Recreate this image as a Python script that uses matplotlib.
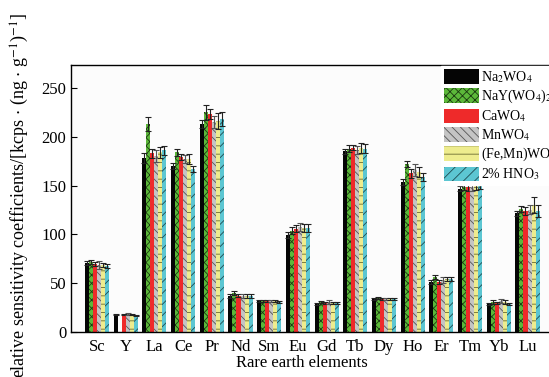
import numpy as np
import matplotlib
matplotlib.use("Agg")
import matplotlib.pyplot as plt
from matplotlib.patches import Patch

plt.rcParams['font.family'] = ['Liberation Serif', 'DejaVu Serif']
plt.rcParams['mathtext.fontset'] = 'stix'
plt.rcParams['hatch.linewidth'] = 0.6

elements = ["Sc", "Y", "La", "Ce", "Pr", "Nd", "Sm", "Eu", "Gd", "Tb", "Dy", "Ho", "Er", "Tm", "Yb", "Lu"]
series_names = [r"Na$_2$WO$_4$", r"NaY(WO$_4$)$_2$", r"CaWO$_4$", r"MnWO$_4$", r"(Fe,Mn)WO$_4$", r"2% HNO$_3$"]

na2wo4 = [71, 18.4, 178, 170, 213, 37, 31.8, 99, 28.7, 185, 33.8, 154, 51.5, 147, 28.7, 121.5]
nay    = [71.4, np.nan, 213, 184, 225, 40, 32, 104, 30.5, 188, 34.8, 172, 56, 149, 30.4, 126]
cawo4  = [70, 18, 183, 179, 223, 37, 31.5, 106, 29.5, 189, 34, 162.5, 51.5, 148.5, 30, 124]
mnwo4  = [69, 18.4, 180, 177, 215.5, 36.5, 32, 107.5, 31, 186.5, 34, 166, 53, 149, 31.5, 125.5]
femnwo4 = [68.5, 18, 184, 177.5, 216.5, 36.5, 31.8, 106.5, 30, 188.5, 33.5, 164, 54, 150.5, 30.7, 130]
hno3   = [68, 17, 186, 167, 218, 36.5, 30.5, 106.5, 29.5, 188, 34, 158.5, 54, 151, 29, 124]

err_na2wo4 = [2, 0.5, 5, 3, 4, 2, 1, 3, 1, 3, 1, 3, 2, 3, 1, 3]
err_nay    = [2, 0, 7, 4, 8, 2, 1, 4, 1, 4, 1, 3, 2, 4, 2, 3]
err_cawo4  = [2, 0.5, 5, 3, 5, 1.5, 1, 4, 1, 3, 1, 5, 2, 4, 1, 4]
err_mnwo4  = [4, 0.8, 6, 4, 6, 2, 1, 4, 2, 4, 1, 6, 3, 5, 2, 5]
err_femnwo4 = [2, 0.5, 6, 5, 8, 2, 1, 4, 1, 5, 1, 5, 2, 5, 2, 8]
err_hno3   = [2, 0.5, 5, 3, 7, 2, 1, 4, 1, 5, 1, 4, 2, 4, 1, 6]

values = [na2wo4, nay, cawo4, mnwo4, femnwo4, hno3]
errors = [err_na2wo4, err_nay, err_cawo4, err_mnwo4, err_femnwo4, err_hno3]
colors = ["#050505", "#5cb83a", "#ee2a2a", "#c4c4c4", "#eeec8e", "#5cc6d2"]
hatches = [None, "xxxx", None, "\\\\\\\\", "--", "///"]
hatch_colors = ["#000000", "#1a3a10", "#000000", "#555555", "#6a6a30", "#1d4a50"]

fig = plt.figure(figsize=(5.49, 3.77), dpi=100)
ax = fig.add_axes([71/549, 45/377, (555-71)/549, (332-65)/377])
ax.set_facecolor("#fcfcfc")

x = np.arange(len(elements))
w = 0.14
for i, (vals, errs) in enumerate(zip(values, errors)):
    pos = x + (i - 2.5) * w
    v = np.array(vals, dtype=float)
    e = np.array(errs, dtype=float)
    ax.bar(pos, v, width=w, color=colors[i], edgecolor=hatch_colors[i] if hatches[i] else colors[i],
           linewidth=0, hatch=hatches[i], label=series_names[i], zorder=2)
    mask = ~np.isnan(v)
    ax.errorbar(pos[mask], v[mask], yerr=e[mask], fmt='none', ecolor='#222222' if i != 3 else '#555555',
                elinewidth=0.8, capsize=2.5, capthick=0.8, zorder=3)

ax.set_xlim(-0.906, (555-97)/28.7)
ax.set_ylim(0, 273.6)
ax.set_xticks(x)
ax.set_xticklabels(elements, fontsize=12)
ax.set_yticks([0, 50, 100, 150, 200, 250])
ax.tick_params(axis='y', direction='in', labelsize=12, length=4)
ax.tick_params(axis='x', direction='in', length=3, pad=5)
for s in ax.spines.values():
    s.set_linewidth(1.0)

ax.set_xlabel("Rare earth elements", fontsize=12, labelpad=2)
ax.xaxis.set_label_coords((301.5-71)/(555-71), -0.085)
ax.set_ylabel(r"Relative sensitivity coefficients/[kcps $\cdot$ (ng $\cdot$ g$^{-1}$)$^{-1}$]", fontsize=13)
ax.yaxis.set_label_coords(-0.083, 0.49)

handles = [Patch(facecolor=colors[i], edgecolor=hatch_colors[i] if hatches[i] else colors[i], linewidth=0,
                 hatch=hatches[i], label=series_names[i]) for i in range(6)]
leg = ax.legend(handles=handles, loc='upper left', bbox_to_anchor=((440-71)/(555-71), 1.0),
                fontsize=10, frameon=True, fancybox=False, edgecolor='white', framealpha=1,
                handlelength=2.5, handleheight=1.2, labelspacing=0.22, handletextpad=0.15,
                borderpad=0.2, borderaxespad=0.1)

fig.savefig("out.png", dpi=100)
